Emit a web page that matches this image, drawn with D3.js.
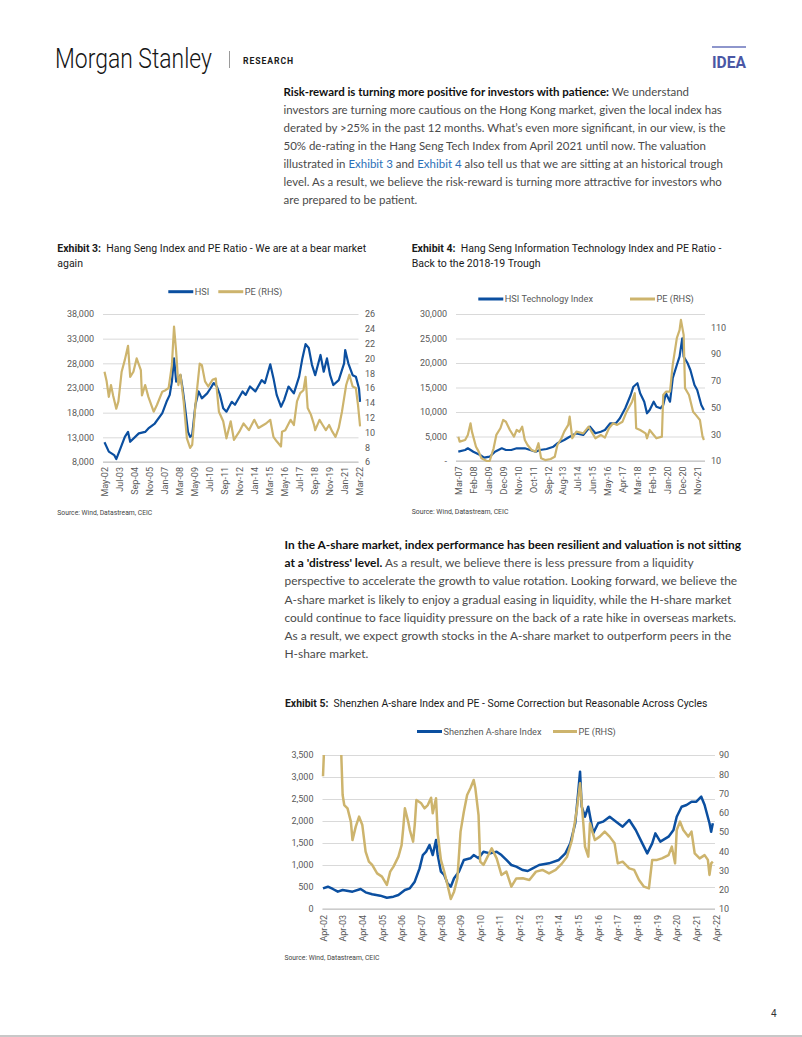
<!DOCTYPE html>
<html><head><meta charset="utf-8">
<script src="https://cdn.jsdelivr.net/npm/d3@7"></script>
<style>
body{margin:0;background:#fff;}
svg{display:block;}
text{white-space:pre;}
</style></head><body>
<svg id="page" width="802" height="1037"></svg>
<script>
// ---------------- DATA ----------------
// Exhibit 3: Hang Seng Index (LHS) and PE (RHS)
const ex3Hsi = [["2002-05",11990],["2002-09",10100],["2003-02",9400],["2003-04",8600],["2003-08",10800],["2003-12",13100],["2004-03",14100],["2004-05",12100],["2005-01",13800],["2005-07",14100],["2005-10",14800],["2006-04",15800],["2006-11",17900],["2007-03",20200],["2007-06",21600],["2007-08",24300],["2007-10",29000],["2007-12",24300],["2008-04",25600],["2008-06",22900],["2008-08",19600],["2008-11",14100],["2009-01",13100],["2009-03",13500],["2009-06",19600],["2009-09",22300],["2009-12",20900],["2010-05",21900],["2010-08",22900],["2010-11",24000],["2011-02",23300],["2011-05",21600],["2011-08",18900],["2011-11",18200],["2012-04",20200],["2012-07",19600],["2013-02",22300],["2013-05",21600],["2013-09",23300],["2014-02",22300],["2014-08",24600],["2014-11",24000],["2015-04",27800],["2015-07",25000],["2015-10",21600],["2016-02",19200],["2016-05",20600],["2016-09",23300],["2017-02",21900],["2017-07",25300],["2017-10",29000],["2018-01",31900],["2018-04",31100],["2018-07",27700],["2018-10",25600],["2019-03",29700],["2019-06",26300],["2019-09",29000],["2019-12",25600],["2020-03",23600],["2020-08",24600],["2021-01",28000],["2021-02",30700],["2021-05",28000],["2021-09",25600],["2021-12",25300],["2022-03",22900],["2022-04",20200]];
const ex3Pe = [["2002-05",18.2],["2002-07",16.9],["2002-09",14.8],["2002-11",16.4],["2003-01",15.0],["2003-04",13.2],["2003-06",14.2],["2003-09",18.2],["2003-12",19.8],["2004-03",21.7],["2004-05",17.5],["2004-08",18.2],["2004-11",20.0],["2005-03",18.4],["2005-04",15.0],["2005-07",16.4],["2005-10",14.8],["2006-03",12.8],["2006-06",13.7],["2006-11",15.5],["2007-02",15.7],["2007-05",16.0],["2007-08",19.1],["2007-10",24.3],["2007-12",20.9],["2008-02",16.4],["2008-04",17.8],["2008-07",14.2],["2008-10",9.2],["2009-01",7.9],["2009-03",8.3],["2009-06",13.7],["2009-10",19.3],["2009-12",19.1],["2010-03",16.9],["2010-06",16.2],["2010-10",17.1],["2011-01",17.3],["2011-04",12.8],["2011-08",11.5],["2011-11",9.2],["2012-03",11.5],["2012-06",9.0],["2012-11",10.1],["2013-03",11.2],["2013-08",10.3],["2014-01",11.7],["2014-05",10.6],["2014-12",11.2],["2015-04",11.7],["2015-07",9.4],["2015-10",8.8],["2016-02",8.1],["2016-03",10.1],["2016-06",10.3],["2016-11",11.7],["2017-02",11.0],["2017-05",14.2],["2017-08",15.3],["2017-11",15.7],["2018-01",17.5],["2018-03",13.3],["2018-06",12.4],["2018-09",11.0],["2018-10",10.3],["2019-02",11.7],["2019-05",11.0],["2019-08",10.3],["2019-11",11.0],["2020-02",10.1],["2020-05",9.4],["2020-08",10.6],["2020-11",12.8],["2021-03",16.4],["2021-06",17.8],["2021-09",16.2],["2021-12",16.0],["2022-02",13.7],["2022-04",10.8]];
const ex3XTicks = ["May-02","Jul-03","Sep-04","Nov-05","Jan-07","Mar-08","May-09","Jul-10","Sep-11","Nov-12","Jan-14","Mar-15","May-16","Jul-17","Sep-18","Nov-19","Jan-21","Mar-22"];
const ex3LeftTicks = [8000,13000,18000,23000,28000,33000,38000];
const ex3RightTicks = [6,8,10,12,14,16,18,20,22,24,26];

// Exhibit 4: HSI Technology Index (LHS) and PE (RHS)
const ex4Tech = [["2007-03",1900],["2007-08",2250],["2007-10",2590],["2008-02",1900],["2008-07",1220],["2008-10",680],["2009-02",880],["2009-06",1900],["2009-11",2590],["2010-02",2250],["2010-06",2250],["2010-10",2590],["2011-04",2590],["2011-08",2250],["2011-12",1900],["2012-03",2250],["2012-08",2450],["2013-01",2920],["2013-04",3610],["2013-09",4290],["2014-01",4960],["2014-06",5650],["2014-11",5310],["2015-04",7000],["2015-08",5650],["2015-12",5980],["2016-03",6330],["2016-07",7690],["2016-11",7690],["2017-02",8720],["2017-06",10760],["2017-10",13470],["2017-12",15160],["2018-03",15860],["2018-05",13820],["2018-08",12100],["2018-10",9740],["2018-12",10410],["2019-03",12100],["2019-05",11080],["2019-08",10760],["2019-10",11430],["2019-12",13820],["2020-03",12100],["2020-05",16880],["2020-08",19600],["2020-10",21290],["2020-12",25040],["2021-01",21290],["2021-04",19940],["2021-06",18570],["2021-09",15510],["2021-11",14490],["2022-02",11430],["2022-04",10410]];
const ex4Pe = [["2007-03",28.2],["2007-04",24.5],["2007-08",25.7],["2007-10",29.5],["2007-12",38.2],["2008-01",32],["2008-04",20.7],["2008-06",17],["2008-08",12],["2008-12",10],["2009-02",10],["2009-05",19.5],["2009-07",29.5],["2009-10",34.5],["2009-12",40.7],["2010-02",39.4],["2010-05",33.2],["2010-08",28.2],["2010-10",33.2],["2010-12",31.9],["2011-02",35.7],["2011-04",25.7],["2011-06",22],["2011-09",18.2],["2011-12",17],["2012-02",23.3],["2012-04",12],["2012-07",10.7],["2012-11",11.5],["2013-02",13.2],["2013-04",22],["2013-07",27],["2013-09",32],["2013-12",37],["2014-01",43.2],["2014-03",27],["2014-06",32],["2014-11",30.7],["2015-03",35.7],["2015-08",27],["2015-12",29.5],["2016-03",27.5],["2016-06",34.5],["2016-09",38.2],["2016-12",37],["2017-04",39.4],["2017-07",46.9],["2017-11",54.4],["2018-01",60.7],["2018-02",34.5],["2018-05",33.2],["2018-09",30.7],["2018-10",27],["2018-12",33.2],["2019-03",29.5],["2019-05",27],["2019-09",28.2],["2019-10",59.4],["2019-12",61.9],["2020-03",61.9],["2020-05",81.9],["2020-08",101.9],["2020-10",108],["2020-11",115.6],["2021-01",104.4],["2021-02",64.5],["2021-05",59.4],["2021-08",46.9],["2021-10",44.5],["2022-01",40.7],["2022-03",28.2],["2022-04",25.7]];
const ex4XTicks = ["Mar-07","Feb-08","Jan-09","Dec-09","Nov-10","Oct-11","Sep-12","Aug-13","Jul-14","Jun-15","May-16","Apr-17","Mar-18","Feb-19","Jan-20","Dec-20","Nov-21"];
const ex4LeftTicks = [0,5000,10000,15000,20000,25000,30000];
const ex4RightTicks = [10,30,50,70,90,110];

// Exhibit 5: Shenzhen A-share Index (LHS) and PE (RHS)
const ex5Sz = [["2002-04",470],["2002-07",507],["2002-10",455],["2003-01",394],["2003-04",432],["2003-10",394],["2004-03",455],["2004-06",379],["2004-10",334],["2005-03",303],["2005-07",257],["2005-11",280],["2006-02",318],["2006-06",432],["2006-09",470],["2006-12",621],["2007-03",923],["2007-05",1227],["2007-07",1303],["2007-09",1455],["2007-11",1227],["2008-01",1568],["2008-02",1227],["2008-04",848],["2008-06",773],["2008-08",584],["2008-10",507],["2008-12",698],["2009-03",848],["2009-06",1114],["2009-10",1152],["2009-12",1227],["2010-03",1152],["2010-06",1303],["2010-10",1264],["2011-02",1303],["2011-05",1227],["2011-08",1114],["2011-11",1000],["2012-02",962],["2012-06",886],["2012-09",864],["2012-12",924],["2013-04",1000],["2013-10",1038],["2014-04",1114],["2014-08",1264],["2014-11",1492],["2015-02",1948],["2015-04",2705],["2015-05",3121],["2015-06",2325],["2015-08",2098],["2015-10",2325],["2016-01",1720],["2016-04",1948],["2016-07",1985],["2016-11",2098],["2017-03",1985],["2017-07",1871],["2017-11",2023],["2018-03",1796],["2018-07",1492],["2018-10",1264],["2019-01",1492],["2019-03",1720],["2019-06",1530],["2019-11",1644],["2020-02",1796],["2020-04",2098],["2020-07",2325],["2020-10",2364],["2021-01",2439],["2021-04",2439],["2021-07",2553],["2021-09",2364],["2021-12",1948],["2022-01",1757],["2022-02",1948]];
const ex5Pe = [["2002-04",79],["2002-05",100],["2003-02",100],["2003-03",95],["2003-04",69.2],["2003-05",64],["2003-07",62.3],["2003-09",55.4],["2003-10",45.8],["2003-12",52.8],["2004-02",58],["2004-04",53.6],["2004-06",39.8],["2004-08",34.6],["2004-10",32.9],["2005-01",28.5],["2005-04",26.8],["2005-07",22.5],["2005-09",29.4],["2005-11",32],["2006-02",37.2],["2006-04",43.2],["2006-05",51.9],["2006-06",62.3],["2006-08",55.4],["2006-09",51],["2006-11",45],["2006-12",53.6],["2007-01",66.6],["2007-04",64.9],["2007-06",62.3],["2007-08",64],["2007-10",67.8],["2007-11",59.7],["2008-01",67.5],["2008-02",49.3],["2008-04",35.5],["2008-06",29.4],["2008-08",22.5],["2008-10",15.2],["2008-12",19],["2009-02",25.9],["2009-04",50.2],["2009-06",60.5],["2009-08",69.2],["2009-10",72.7],["2009-12",77],["2010-01",72.7],["2010-03",58.8],["2010-04",34.6],["2010-06",32.9],["2010-11",41.5],["2011-02",36.3],["2011-05",27.7],["2011-08",29.4],["2011-11",21.6],["2012-02",25.9],["2012-06",26],["2012-10",25.1],["2013-02",29.4],["2013-06",30.3],["2013-10",28.5],["2014-02",30.3],["2014-06",33.7],["2014-09",37.2],["2014-12",45.8],["2015-03",61.4],["2015-05",75.3],["2015-07",54.5],["2015-08",42.4],["2015-10",37.2],["2015-11",54.5],["2016-02",45.8],["2016-05",47.6],["2016-08",50.2],["2016-11",47.6],["2017-02",44.1],["2017-04",33.7],["2017-07",34.6],["2017-11",31.1],["2018-02",30.3],["2018-05",25.1],["2018-08",21.6],["2018-11",20.7],["2019-01",35.5],["2019-04",35.5],["2019-07",36.3],["2019-11",38],["2020-01",42.4],["2020-03",33.7],["2020-04",51],["2020-06",55.4],["2020-08",51],["2020-11",47.6],["2021-01",50.2],["2021-03",38.9],["2021-06",36.3],["2021-09",38],["2021-11",35.5],["2021-12",27.7],["2022-01",33.7],["2022-02",34.6]];
const ex5XTicks = ["Apr-02","Apr-03","Apr-04","Apr-05","Apr-06","Apr-07","Apr-08","Apr-09","Apr-10","Apr-11","Apr-12","Apr-13","Apr-14","Apr-15","Apr-16","Apr-17","Apr-18","Apr-19","Apr-20","Apr-21","Apr-22"];
const ex5LeftTicks = [0,500,1000,1500,2000,2500,3000,3500];
const ex5RightTicks = [10,20,30,40,50,60,70,80,90];

// ---------------- STYLE ----------------
const svg = d3.select("#page");
const CF = "Roboto, 'Liberation Sans', Arial, sans-serif";
const BF = "Lato, 'Open Sans', 'Noto Sans', sans-serif";
const BLUE = "#0b4fa0", TAN = "#cdb46d", GRID = "#d9d9d9", LAB = "#595959";
const parseM = d3.timeParse("%Y-%m");
const parseTick = d3.timeParse("%b-%y");
const fmtTick = d3.timeFormat("%b-%y");

function fitFont(t, base, width){
  const w = t.node().getComputedTextLength();
  const fs = base*width/w;
  t.attr("font-size", fs);
  return fs;
}

// ---------------- HEADER ----------------
(function(){
  const ms = svg.append("text").attr("x",0).attr("y",68).attr("font-family",CF).attr("font-weight",300)
    .attr("font-size",27).attr("fill","#151515").text("Morgan Stanley");
  const w = ms.node().getComputedTextLength();
  ms.attr("transform",`translate(55,0) scale(${157/w},1)`);
  svg.append("line").attr("x1",229.5).attr("x2",229.5).attr("y1",51).attr("y2",68).attr("stroke","#9a9a9a").attr("stroke-width",1);
  const rs = svg.append("text").attr("x",0).attr("y",64).attr("font-family",CF).attr("font-weight",700)
    .attr("font-size",9.5).attr("letter-spacing",1).attr("fill","#1a1a1a").text("RESEARCH");
  const w2 = rs.node().getComputedTextLength();
  rs.attr("transform",`translate(243,0) scale(${51/w2},1)`);
  svg.append("rect").attr("x",712).attr("y",46).attr("width",34).attr("height",2).attr("fill","#8e96cc");
  const id = svg.append("text").attr("x",0).attr("y",68).attr("font-family",CF).attr("font-weight",700)
    .attr("font-size",17).attr("fill","#4a57a5").text("IDEA");
  const w3 = id.node().getComputedTextLength();
  id.attr("transform",`translate(712,0) scale(${34/w3},1)`);
})();

// ---------------- BODY TEXT ----------------
function paragraph(lines, x, y0, lh, refIdx, refWidth){
  const g = svg.append("g");
  const ts = lines.map((segs,i)=>{
    const t = g.append("text").attr("x",x).attr("y",y0+i*lh).attr("font-family",BF).attr("font-size",12);
    segs.forEach(s=>{
      t.append("tspan").text(s.t).attr("font-weight", s.b?700:400)
       .attr("fill", s.link ? "#2c6fb7" : (s.b ? "#111" : "#4a4a4a"));
    });
    return t;
  });
  const w = ts[refIdx].node().getComputedTextLength();
  const fs = 12*refWidth/w;
  ts.forEach(t=>t.attr("font-size",fs));
}
paragraph([
  [{t:"Risk-reward is turning more positive for investors with patience:",b:1},{t:" We understand"}],
  [{t:"investors are turning more cautious on the Hong Kong market, given the local index has"}],
  [{t:"derated by >25% in the past 12 months. What\u2019s even more significant, in our view, is the"}],
  [{t:"50% de-rating in the Hang Seng Tech Index from April 2021 until now. The valuation"}],
  [{t:"illustrated in "},{t:"Exhibit 3",link:1},{t:" and "},{t:"Exhibit 4",link:1},{t:" also tell us that we are sitting at an historical trough"}],
  [{t:"level. As a result, we believe the risk-reward is turning more attractive for investors who"}],
  [{t:"are prepared to be patient."}]
], 283.5, 95.5, 18, 1, 439);
paragraph([
  [{t:"In the A-share market, index performance has been resilient and valuation is not sitting",b:1}],
  [{t:"at a 'distress' level.",b:1},{t:" As a result, we believe there is less pressure from a liquidity"}],
  [{t:"perspective to accelerate the growth to value rotation. Looking forward, we believe the"}],
  [{t:"A-share market is likely to enjoy a gradual easing in liquidity, while the H-share market"}],
  [{t:"could continue to face liquidity pressure on the back of a rate hike in overseas markets."}],
  [{t:"As a result, we expect growth stocks in the A-share market to outperform peers in the"}],
  [{t:"H-share market."}]
], 284.5, 549, 18.2, 3, 447);

// ---------------- CHART HELPERS ----------------
function title(x, y, num, lines, width){
  const t1 = svg.append("text").attr("x",x).attr("y",y).attr("font-family",CF).attr("font-size",10.5).attr("fill","#1a1a1a");
  t1.append("tspan").attr("font-weight",700).text("Exhibit "+num+":");
  t1.append("tspan").text("  "+lines[0]);
  const fs = fitFont(t1, 10.5, width);
  if(lines[1]) svg.append("text").attr("x",x).attr("y",y+15).attr("font-family",CF).attr("font-size",fs).attr("fill","#1a1a1a").text(lines[1]);
}
function source(x, y, width){
  const t = svg.append("text").attr("x",x).attr("y",y).attr("font-family",CF).attr("font-size",7).attr("fill","#444").text("Source: Wind, Datastream, CEIC");
  fitFont(t, 7, width);
}
function legend(y, items){
  items.forEach(it=>{
    svg.append("line").attr("x1",it.x0).attr("x2",it.x1).attr("y1",y).attr("y2",y).attr("stroke",it.color).attr("stroke-width",3);
    svg.append("text").attr("x",it.x1+1.5).attr("y",y).attr("dy","0.35em").attr("font-family",CF).attr("font-size",9.2).attr("fill",LAB).text(it.label);
  });
}
let clipN = 0;
function chart(o){
  const g = svg.append("g");
  const x = d3.scaleTime().domain([parseTick(o.xTicks[0]), parseTick(o.xTicks[o.xTicks.length-1])]).range([o.x0, o.x1]);
  const yL = d3.scaleLinear().domain(o.leftDomain).range([o.bottom, o.top]);
  const yR = d3.scaleLinear().domain(o.rightDomain).range([o.bottom, o.top]);
  // gridlines
  g.append("g").attr("transform",`translate(${o.left},0)`)
    .call(d3.axisLeft(yL).tickValues(o.leftTicks).tickSize(-(o.right-o.left)).tickFormat(""))
    .call(a=>a.select(".domain").remove())
    .call(a=>a.selectAll("line").attr("stroke",GRID).attr("stroke-width",1));
  // x axis line
  g.append("line").attr("x1",o.left).attr("x2",o.right).attr("y1",o.bottom).attr("y2",o.bottom).attr("stroke","#bfbfbf").attr("stroke-width",1);
  // left labels
  g.append("g").attr("transform",`translate(${o.left},0)`)
    .call(d3.axisLeft(yL).tickValues(o.leftTicks).tickSize(0).tickPadding(o.left-o.leftLabelX).tickFormat(o.leftFmt))
    .call(a=>a.select(".domain").remove())
    .call(a=>a.selectAll("text").attr("font-family",CF).attr("font-size",9).attr("fill",LAB));
  // right labels
  g.append("g").attr("transform",`translate(${o.right},0)`)
    .call(d3.axisRight(yR).tickValues(o.rightTicks).tickSize(0).tickPadding(o.rightLabelX-o.right).tickFormat(d3.format("d")))
    .call(a=>a.select(".domain").remove())
    .call(a=>a.selectAll("text").attr("font-family",CF).attr("font-size",9).attr("fill",LAB));
  // x labels
  g.append("g").attr("transform",`translate(0,${o.bottom})`)
    .call(d3.axisBottom(x).tickValues(o.xTicks.map(parseTick)).tickSize(0).tickFormat(fmtTick))
    .call(a=>a.select(".domain").remove())
    .call(a=>a.selectAll("text").attr("font-family",CF).attr("font-size",9).attr("fill",LAB)
       .attr("transform","rotate(-90)").attr("text-anchor","end").attr("x",-o.xLabelOff).attr("y",0).attr("dy","0.35em"));
  // clip
  const cid = "clip"+(clipN++);
  svg.append("clipPath").attr("id",cid).append("rect").attr("x",o.left-3).attr("y",o.top).attr("width",o.right-o.left+6).attr("height",o.bottom-o.top+3);
  const lg = g.append("g").attr("clip-path",`url(#${cid})`);
  const lineL = d3.line().x(d=>x(parseM(d[0]))).y(d=>yL(d[1]));
  const lineR = d3.line().x(d=>x(parseM(d[0]))).y(d=>yR(d[1]));
  lg.append("path").datum(o.leftSeries).attr("d",lineL).attr("fill","none").attr("stroke",BLUE).attr("stroke-width",o.sw).attr("stroke-linejoin","round");
  lg.append("path").datum(o.rightSeries).attr("d",lineR).attr("fill","none").attr("stroke",TAN).attr("stroke-width",o.sw).attr("stroke-linejoin","round");
}

// ---------------- EXHIBIT 3 ----------------
title(57.3, 251.5, 3, ["Hang Seng Index and PE Ratio - We are at a bear market","again"], 309);
legend(291.7, [{x0:168.3,x1:193.3,color:BLUE,label:"HSI"},{x0:218.3,x1:243.3,color:TAN,label:"PE (RHS)"}]);
chart({left:103,right:358.5,top:314,bottom:462,x0:104.5,x1:359,
  leftDomain:[8000,38000],leftTicks:ex3LeftTicks,leftFmt:d3.format(","),leftLabelX:94,
  rightDomain:[6,26],rightTicks:ex3RightTicks,rightLabelX:365,
  xTicks:ex3XTicks,xLabelOff:5,leftSeries:ex3Hsi,rightSeries:ex3Pe,sw:2.2});
source(57.3, 515, 95);

// ---------------- EXHIBIT 4 ----------------
title(411.7, 251.5, 4, ["Hang Seng Information Technology Index and PE Ratio -","Back to the 2018-19 Trough"], 310);
legend(299, [{x0:478.3,x1:503.3,color:BLUE,label:"HSI Technology Index"},{x0:630,x1:655,color:TAN,label:"PE (RHS)"}]);
chart({left:456,right:705,top:314,bottom:461,x0:458.3,x1:697.2,
  leftDomain:[0,30000],leftTicks:ex4LeftTicks,leftFmt:v=>v===0?"-":d3.format(",")(v),leftLabelX:447,
  rightDomain:[10,120],rightTicks:ex4RightTicks,rightLabelX:711,
  xTicks:ex4XTicks,xLabelOff:5.5,leftSeries:ex4Tech,rightSeries:ex4Pe,sw:2.2});
source(411.7, 514, 97);

// ---------------- EXHIBIT 5 ----------------
title(285, 707, 5, ["Shenzhen A-share Index and PE - Some Correction but Reasonable Across Cycles"], 423);
legend(731.5, [{x0:417,x1:442,color:BLUE,label:"Shenzhen A-share Index"},{x0:553,x1:577,color:TAN,label:"PE (RHS)"}]);
chart({left:322.5,right:715,top:755,bottom:909,x0:323,x1:716,
  leftDomain:[0,3500],leftTicks:ex5LeftTicks,leftFmt:d3.format(","),leftLabelX:313.5,
  rightDomain:[10,90],rightTicks:ex5RightTicks,rightLabelX:719,
  xTicks:ex5XTicks,xLabelOff:6,leftSeries:ex5Sz,rightSeries:ex5Pe,sw:2.5});
source(284.5, 960, 95);

// ---------------- FOOTER ----------------
svg.append("text").attr("x",771).attr("y",1017).attr("font-family",CF).attr("font-size",10).attr("fill","#333").text("4");
svg.append("rect").attr("x",0).attr("y",1035).attr("width",802).attr("height",2).attr("fill","#c8c8c8");
</script>
</body></html>
